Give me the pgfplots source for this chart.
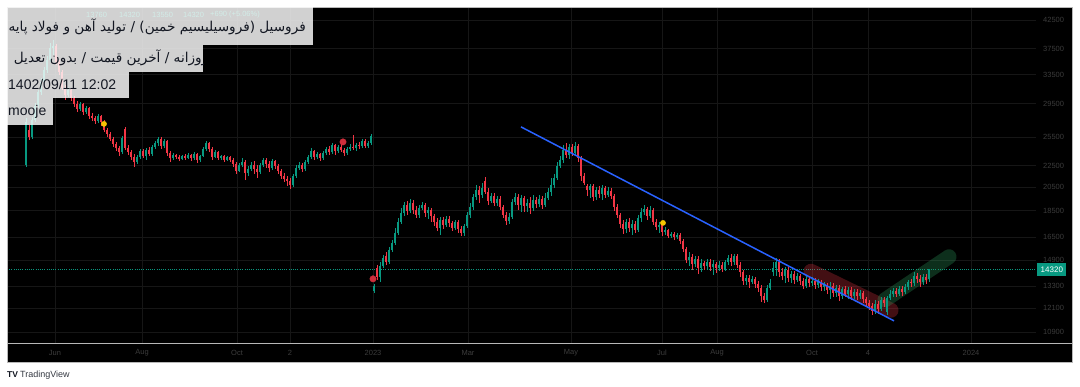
\documentclass[border=0pt]{standalone}
\usepackage{fontspec}
\setmainfont{Liberation Sans}
\newfontfamily\arabicfont[Script=Arabic]{DejaVu Sans}
\usepackage{pgfplots}
\usepackage{pgfplotstable}
\pgfplotsset{compat=1.18}
\TeXXeTstate=1
\definecolor{upc}{HTML}{089981}
\definecolor{dnc}{HTML}{F23645}
\definecolor{tvblue}{HTML}{2962FF}
\definecolor{gridc}{HTML}{161616}
\definecolor{lblc}{HTML}{3C3C3C}
\definecolor{framec}{HTML}{B8B8B8}
\definecolor{txtc}{HTML}{131722}
\definecolor{bandg}{HTML}{2E9E5E}
\definecolor{yelc}{HTML}{F5C400}

\pgfplotstableread{
x o h l c
26 22590 27730 22390 27250
29 26310 26890 25190 25530
32 25530 27850 25300 27490
35 27490 29600 27250 29220
38 29220 31330 28970 31060
41 31060 33010 30650 32450
44 32450 34640 32170 34180
47 34180 36330 33740 35710
50 35710 38450 35400 37620
53 37620 38960 36490 37950
56 37950 38290 34940 35400
59 35400 35710 33450 33880
62 33880 34180 31330 31600
65 31600 32020 29990 30650
68 30650 31740 30380 31330
71 31330 31600 29860 30250
74 30250 30520 29090 29470
77 29470 29860 28460 28840
80 28840 29730 28590 29470
83 29470 29600 28090 28460
86 28460 29220 28210 28970
89 28970 29090 27600 27970
92 27970 28340 27370 27730
95 27730 27970 27010 27370
98 27370 28210 27130 27970
101 27970 28090 26770 27250
104 27250 27490 26080 26310
107 26310 26540 25530 25860
110 25860 26080 25080 25300
113 25300 25530 24440 24750
116 24750 24970 24020 24330
119 24330 24540 23500 23910
122 23910 25640 23700 25420
125 26420 26660 24120 24330
128 24330 24650 23600 23910
131 23910 24120 23090 23400
134 23400 23700 22390 22890
137 22890 23600 22690 23400
140 23400 24220 23190 24020
143 24020 24220 23290 23500
146 23500 24330 23090 24120
149 24120 24440 23500 23700
152 23700 24650 23500 24440
155 24440 25080 24220 24860
158 24860 25530 24540 25300
161 25300 25530 24220 24540
164 24540 25300 24330 25080
167 25080 25190 23500 23810
170 23810 24020 22890 23290
173 23290 23810 23090 23600
176 23600 23700 23190 23400
179 23400 23600 22990 23190
182 23190 23600 23090 23500
185 23500 23700 23090 23290
188 23290 23810 23190 23600
191 23600 23700 22990 23290
194 23290 23910 23090 23700
197 23700 23810 22790 23090
200 23090 23600 22890 23500
203 23500 24440 23400 24220
206 24220 25080 24020 24860
209 24860 24970 23910 24220
212 24220 24440 23090 23400
215 23400 24120 23290 23910
218 23910 24020 23090 23290
221 23290 23600 23090 23500
224 23500 23600 22890 23090
227 23090 23500 22990 23400
230 23400 23500 22890 23090
233 23090 23290 22390 22690
236 22690 22890 21720 22000
239 22000 22790 21910 22590
242 22590 23290 22390 22890
245 22890 23090 21160 21810
248 21810 22490 21540 22200
251 22200 22890 22000 22590
254 22590 22990 21720 22200
257 22200 22590 21350 21910
260 21910 22790 21720 22590
263 22590 23290 22390 23090
266 23090 23290 22300 22690
269 22690 22990 21910 22300
272 22300 23190 22100 22990
275 22990 23090 22200 22490
278 22490 22690 21720 22000
281 22000 22200 21260 21540
284 21540 21810 20980 21260
287 21260 21540 20610 21070
290 21070 21350 20350 20700
293 20700 21720 20520 21540
296 21540 22590 21350 22300
299 22300 22890 22100 22590
302 22590 22790 21910 22200
305 22200 23090 22000 22890
308 22890 23600 22690 23400
311 23400 24330 23190 24020
314 24020 24120 23090 23400
317 23400 23910 23190 23700
320 23700 23810 22990 23290
323 23290 24020 23090 23810
326 23810 24440 23600 24220
329 24220 24540 23600 23910
332 23910 24860 23700 24650
335 24650 24750 23600 24020
338 24020 24650 23810 24440
341 24440 24750 23910 24120
344 24120 24330 23500 23810
347 23810 24440 23600 24220
350 24220 24750 24020 24440
353 24440 25750 24120 24330
356 24330 24860 24020 24650
359 24650 24970 24220 24540
362 24540 25300 24330 25080
365 25080 25300 24330 24540
368 24540 25080 24330 24860
371 24860 25860 24650 25640
374 13040 13450 12930 13330
377 14420 14610 13680 13860
380 13860 14800 13560 14550
383 14550 15260 14420 15060
386 15190 15460 14610 14800
389 14800 15800 14670 15590
392 15590 16290 15460 16080
395 16080 17160 15940 16790
398 16790 17920 16650 17620
401 17620 18720 17460 18320
404 18320 19220 18080 18970
407 18970 19310 18160 18480
410 18480 19480 18320 19140
413 19140 19390 18240 18560
416 18560 18890 17920 18160
419 18160 18970 17920 18720
422 18720 19220 18560 18970
425 18970 19140 18000 18320
428 18320 18800 17850 18560
431 18560 18720 17620 18080
434 18080 18240 17310 17620
437 17620 17920 16940 17160
440 17160 18000 16650 17770
443 17770 18000 17090 17390
446 17390 18080 17240 17850
449 17850 18080 17240 17540
452 17540 17690 16940 17160
455 17160 17770 17010 17620
458 17620 17770 16790 17090
461 17090 17310 16580 16790
464 16790 17460 16580 17310
467 17310 18400 17160 18160
470 18160 19140 17920 18800
473 18800 19910 18560 19650
476 19650 20700 19390 20260
479 20260 20610 19140 19820
482 19820 20890 19560 20430
485 21070 21440 19910 20080
488 20080 20430 18970 19310
491 19310 20000 19140 19730
494 19730 20000 18890 19140
497 19140 19730 18890 19480
500 19480 19730 18560 18800
503 18800 18970 17920 18160
506 18160 18400 17390 17690
509 17690 18320 17460 18000
512 18000 19480 17850 19220
515 19220 20000 18970 19650
518 19650 19910 18560 18970
521 18970 19820 18400 19560
524 19560 19730 18400 18890
527 18890 19480 18400 19140
530 19140 19650 18240 18720
533 18720 19820 18480 19390
536 19390 19650 18720 19050
539 19050 19820 18800 19480
542 19480 19730 18640 18970
545 18970 20000 18800 19560
548 19560 20430 19390 20080
551 20080 21350 19730 20700
554 20700 21720 20430 21350
557 21350 22890 21160 22490
560 22490 23500 22300 23090
563 23090 24650 22790 24120
566 24120 24860 23290 23600
569 23600 24750 23190 24440
572 24440 24750 23500 23810
575 23810 24970 23500 24540
578 24540 24750 22890 23290
581 23290 23500 21070 21540
584 21540 21810 20700 20890
587 20610 20800 19730 20260
590 20260 20800 19560 20610
593 20610 20800 19310 19650
596 19650 20520 19390 20260
599 20260 20610 19560 19910
602 19910 20700 19390 20430
605 20430 20610 19560 19820
608 19820 20520 19650 20170
611 20170 20430 19480 19730
614 19730 19910 18480 18800
617 18800 19050 17920 18160
620 18160 18320 17160 17460
623 17460 17770 16720 17090
626 17090 17850 16790 17620
629 17620 17920 16860 17160
632 17160 17770 16650 17460
635 17460 17690 16790 17010
638 17010 18160 16860 17920
641 17920 18720 17620 18400
644 18400 18970 18160 18640
647 18640 18800 17770 18080
650 18080 18890 17920 18560
653 18560 18720 17390 17620
656 17620 17850 17010 17240
659 17240 17620 16790 17390
662 17390 17620 16580 16860
665 16860 17240 16650 17010
668 17010 17090 16430 16580
671 16580 16860 16430 16720
674 16720 16860 16290 16500
677 16500 16790 16360 16650
680 16650 16790 16010 16220
683 16220 16360 15460 15660
686 15660 15800 14740 14930
689 14930 15460 14550 15130
692 15130 15320 14290 14670
695 14670 15190 14480 15000
698 15000 15190 14050 14420
701 14420 15000 14170 14740
704 14740 14870 14290 14550
707 14550 15000 14290 14800
710 14800 15000 14230 14480
713 14480 14930 13980 14670
716 14670 14800 14110 14420
719 14420 14870 14230 14610
722 14610 14800 14170 14360
725 14360 14930 14230 14800
728 14800 15260 14610 15060
731 15060 15320 14550 14800
734 14800 15320 14610 15190
737 15190 15320 14420 14610
740 14610 14800 13860 14170
743 14170 14290 13390 13620
746 13620 13980 13390 13800
749 13800 13980 13210 13560
752 13560 13920 13450 13740
755 13740 13860 13210 13450
758 13450 13620 12990 13210
761 13210 13390 12430 12760
764 12760 12930 12380 12540
767 12540 13390 12430 13210
770 13210 13740 13100 13500
773 14170 14800 13920 14420
776 14420 15060 13920 14800
779 14800 15000 13860 14170
782 14170 14420 13680 13920
785 13920 14480 13500 14290
788 14290 14480 13560 13800
791 13800 14230 13500 14050
794 14050 14230 13450 13680
797 13680 14110 13560 13920
800 13920 14050 13390 13620
803 13620 13800 13160 13330
806 13330 13920 13210 13740
809 13740 13920 13270 13500
812 13500 13860 13330 13620
815 13620 13800 13160 13390
818 13390 13740 13210 13560
821 13560 13680 13040 13270
824 13270 13560 13040 13390
827 13390 13500 12870 13100
830 13100 13560 12600 13330
833 13330 13500 12710 12930
836 12930 13390 12710 13210
839 13210 13390 12490 12760
842 12760 13270 12600 13160
845 13160 13330 12710 12870
848 12870 13270 12600 13100
851 13100 13270 12540 12760
854 12760 13160 12600 12990
857 12990 13160 12540 12760
860 12760 13100 12600 12930
863 12930 13040 12380 12600
866 12600 12710 12160 12380
869 12380 12540 12000 12220
872 12220 12380 11750 11950
875 11950 12540 11800 12320
878 12320 12490 11800 12060
881 12060 12710 11950 12540
884 12540 12710 12160 12380
887 11900 12760 11750 12650
890 12650 13100 12540 12870
893 12870 13210 12710 13040
896 13040 13210 12710 12870
899 12870 13330 12760 13160
902 13160 13330 12760 12990
905 12990 13450 12870 13270
908 13270 13680 13100 13560
911 13560 13740 13270 13500
914 13500 14170 13330 13920
917 13920 14110 13500 13740
920 13740 13980 13270 13560
923 13560 14050 13390 13860
926 13860 14050 13450 13680
929 13760 14320 13550 14320
}\candles

\begin{document}
\begin{tikzpicture}
\begin{scope}[x=1pt,y=1pt]
\useasboundingbox (0,0) rectangle (1080,387);
\fill[white] (0,0) rectangle (1080,387);
\fill[black] (7,25) rectangle (1072,380);
\end{scope}
\begin{axis}[
  at={(7pt,44pt)}, anchor=south west,
  width=1029pt, height=336pt, scale only axis,
  xmin=7, xmax=1036, ymin=10387, ymax=44985, ymode=log,
  clip=false,
  axis line style={draw=none}, tick style={draw=none},
  xmajorgrids, ymajorgrids, major grid style={draw=gridc, line width=0.6pt},
  xtick={55,142,237,290,373,468,571,662,717,812,868,971},
  xticklabels={Jun,Aug,Oct,2,2023,Mar,May,Jul,Aug,Oct,4,2024},
  ytick={10900,12100,13300,14900,16500,18500,20500,22500,25500,29500,33500,37500,42500},
  yticklabels={10900,12100,13300,14900,16500,18500,20500,22500,25500,29500,33500,37500,42500},
  yticklabel pos=right,
  yticklabel style={anchor=west, inner sep=0pt, xshift=7pt, text=lblc, font=\fontsize{7.5}{9}\selectfont},
  xticklabel style={anchor=center, inner sep=0pt, yshift=-9.5pt, text=lblc, font=\fontsize{7.5}{9}\selectfont},
]
% last price line
\addplot[upc, line width=0.9pt, dash pattern=on 1pt off 1.2pt, forget plot] coordinates {(7,14320) (1036,14320)};
% brush strokes
\addplot[dnc, opacity=0.28, line width=15pt, line cap=round, forget plot] coordinates {(811,14200) (891,11980)};
\addplot[bandg, opacity=0.3, line width=15pt, line cap=round, forget plot] coordinates {(885,12540) (949,15130)};
% wicks
\addplot[draw=none, mark=none, forget plot,
  restrict expr to domain={\thisrow{c}-\thisrow{o}}{0:1000000},
  error bars/.cd, y dir=both, y explicit, error mark=none,
  error bar style={draw=upc, line width=0.8pt}]
  table[x=x, y=c, y error plus expr=\thisrow{h}-\thisrow{c}, y error minus expr=\thisrow{c}-\thisrow{l}] {\candles};
\addplot[draw=none, mark=none, forget plot,
  restrict expr to domain={\thisrow{c}-\thisrow{o}}{-1000000:-0.5},
  error bars/.cd, y dir=both, y explicit, error mark=none,
  error bar style={draw=dnc, line width=0.8pt}]
  table[x=x, y=c, y error plus expr=\thisrow{h}-\thisrow{c}, y error minus expr=\thisrow{c}-\thisrow{l}] {\candles};
% bodies
\addplot[draw=none, mark=none, forget plot,
  restrict expr to domain={\thisrow{c}-\thisrow{o}}{0:1000000},
  error bars/.cd, y dir=minus, y explicit, error mark=none,
  error bar style={draw=upc, line width=2.3pt}]
  table[x=x, y=c, y error minus expr=\thisrow{c}-\thisrow{o}] {\candles};
\addplot[draw=none, mark=none, forget plot,
  restrict expr to domain={\thisrow{c}-\thisrow{o}}{-1000000:-0.5},
  error bars/.cd, y dir=plus, y explicit, error mark=none,
  error bar style={draw=dnc, line width=2.3pt}]
  table[x=x, y=c, y error plus expr=\thisrow{o}-\thisrow{c}] {\candles};
% trend line
\addplot[tvblue, line width=1.5pt, forget plot] coordinates {(521,26660) (894,11440)};
% event markers
\addplot[only marks, mark=*, mark size=2.6pt, yelc, forget plot] coordinates {(104,27010) (663,17540)};
\addplot[only marks, mark=*, mark size=3.2pt, dnc!85!black, forget plot] coordinates {(343,24970) (373,13740)};
\node[fill=upc, text=white, inner xsep=3.5pt, inner ysep=0pt, minimum height=13pt, anchor=west, font=\fontsize{8}{9}\selectfont] at (axis cs:1037,14320) {14320};
\end{axis}
\begin{scope}[x=1pt,y=1pt]
\draw[framec, line width=0.8pt] (7,25) rectangle (1072,380);
\draw[framec, line width=0.8pt] (7,44) -- (1072,44);
% legend values (mostly hidden behind the box)
\begin{scope}[every node/.style={anchor=west, inner sep=0pt, text=upc, font=\fontsize{7.5}{8}\selectfont}]
\node at (86,372) {13760};
\node at (119,372) {14320};
\node at (152,372) {13550};
\node at (183,372) {14320};
\node at (210,372) {+690 (+5.06\%)};
\end{scope}
% info boxes
\fill[white, fill opacity=0.82] (7,342) rectangle (313,380);
\fill[white, fill opacity=0.82] (7,315) rectangle (203,342);
\fill[white, fill opacity=0.82] (7,289) rectangle (129,315);
\fill[white, fill opacity=0.82] (7,262) rectangle (53,289);
\node[anchor=east, inner sep=0pt, text=txtc] at (306,360) {\fontsize{13.6}{15}\arabicfont\beginR فروسیل (فروسیلیسیم خمین) / تولید آهن و فولاد پایه\endR};
\begin{scope}
\clip (7,315) rectangle (203,342);
\node[anchor=east, inner sep=0pt, text=txtc] at (208.5,329) {\fontsize{13.6}{15}\arabicfont\beginR روزانه / آخرین قیمت / بدون تعدیل\endR};
\end{scope}
\node[anchor=west, inner sep=0pt, text=txtc] at (8,302) {\fontsize{14}{16}\selectfont 1402/09/11 12:02};
\node[anchor=west, inner sep=0pt, text=txtc] at (8,275) {\fontsize{14}{16}\selectfont mooje};
% footer logo
\node[anchor=west, inner sep=0pt, text=txtc] at (7,12) {\fontsize{8.5}{9}\selectfont\bfseries TV};
\node[anchor=west, inner sep=0pt, text=txtc!85] at (20,12) {\fontsize{9}{10}\selectfont TradingView};
\end{scope}
\end{tikzpicture}
\end{document}
